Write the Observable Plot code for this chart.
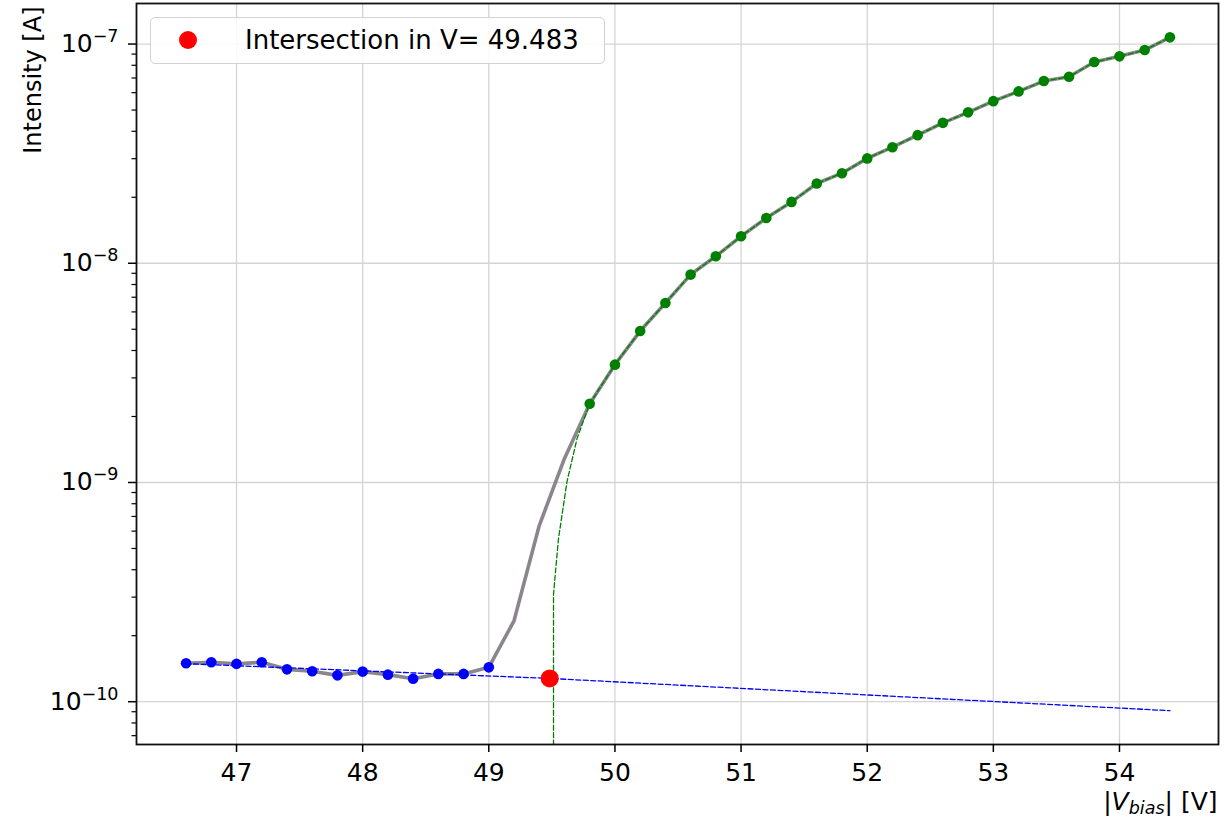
<!DOCTYPE html>
<html><head><meta charset="utf-8">
<script src="https://cdn.jsdelivr.net/npm/d3@7"></script>
<script src="https://cdn.jsdelivr.net/npm/@observablehq/plot@0.6"></script>
<style>
html,body{margin:0;padding:0;background:#fff;}
#wrap{position:relative;width:1232px;height:819px;font-family:"DejaVu Sans",sans-serif;}
#legend{position:absolute;left:150px;top:17px;width:453px;height:45px;border:1.3px solid #d2d2d2;border-radius:5px;background:rgba(255,255,255,0.85);}
#legend .dot{position:absolute;left:28px;top:13px;width:18px;height:18px;border-radius:50%;background:#ff0000;}
#legend .lab{position:absolute;left:94px;top:9px;font-size:26px;line-height:26px;color:#000;white-space:nowrap;}
</style>
</head><body>
<div id="wrap"></div>
<script>
// ---- data ----
const blueV = [46.6,46.8,47.0,47.2,47.4,47.6,47.8,48.0,48.2,48.4,48.6,48.8,49.0];
const blueI = [1.497e-10,1.513e-10,1.488e-10,1.513e-10,1.405e-10,1.376e-10,1.319e-10,1.372e-10,1.329e-10,1.273e-10,1.339e-10,1.339e-10,1.435e-10];
const midV = [49.2,49.4,49.6];
const midI = [2.34e-10,6.36e-10,1.287e-9];
const greenV = [49.8,50.0,50.2,50.4,50.6,50.8,51.0,51.2,51.4,51.6,51.8,52.0,52.2,52.4,52.6,52.8,53.0,53.2,53.4,53.6,53.8,54.0,54.2,54.4];
const greenI = [2.288e-9,3.447e-9,4.907e-9,6.586e-9,8.88e-9,1.076e-8,1.328e-8,1.609e-8,1.905e-8,2.312e-8,2.576e-8,3.008e-8,3.385e-8,3.84e-8,4.37e-8,4.88e-8,5.49e-8,6.08e-8,6.78e-8,7.09e-8,8.28e-8,8.79e-8,9.39e-8,1.073e-7];
const blueFitV = [46.6,49.483,54.4];
const blueFitI = [1.491e-10,1.277e-10,9.1e-11];
const greenFitLowV = [49.513,49.513,49.531,49.553,49.62,49.70];
const greenFitLowI = [5e-11,3.08e-10,4.05e-10,5.57e-10,1.01e-9,1.59e-9];
const crossV = [49.483];
const crossI = [1.277e-10];
const xTicks = [47,48,49,50,51,52,53,54];
const yTicks = [1e-10,1e-9,1e-8,1e-7];
const legendText = "Intersection in V= 49.483";
const yLabel = "Intensity [A]";
const xLabel = "|Vbias| [V]";

// ---- tables built from the arrays ----
const pts = (V, I) => V.map((v, i) => ({v, I: I[i]}));
const blue = pts(blueV, blueI);
const green = pts(greenV, greenI);
const all = pts(blueV.concat(midV, greenV), blueI.concat(midI, greenI));
const blueFit = pts(blueFitV, blueFitI);
const greenFit = pts(greenFitLowV.concat(greenV), greenFitLowI.concat(greenI));
const cross = pts(crossV, crossI);
const minor = [];
for (let e = -11; e <= -7; e++) for (let m = 2; m <= 9; m++) {
  const v = m * Math.pow(10, e);
  if (v > 6.38e-11 && v < 1.531e-7) minor.push(v);
}

const chart = Plot.plot({
  width: 1232, height: 819,
  marginLeft: 136, marginRight: 14, marginTop: 3, marginBottom: 75,
  style: {fontFamily: "DejaVu Sans, sans-serif", fontSize: "25px", background: "white", color: "black", overflow: "visible"},
  x: {domain: [46.207, 54.785]},
  y: {type: "log", domain: [6.38e-11, 1.531e-7]},
  marks: [
    Plot.gridX(xTicks, {stroke: "#d4d4d4", strokeOpacity: 1, strokeWidth: 1.3}),
    Plot.gridY(yTicks, {stroke: "#d4d4d4", strokeOpacity: 1, strokeWidth: 1.3}),
    Plot.line(all, {x: "v", y: "I", stroke: "#8a868c", strokeWidth: 3.6}),
    Plot.line(blueFit, {x: "v", y: "I", stroke: "#0000ff", strokeWidth: 1.3, strokeDasharray: "5,2.5", clip: true}),
    Plot.line(greenFit, {x: "v", y: "I", stroke: "#008000", strokeWidth: 1.3, strokeDasharray: "5,2.5", clip: true}),
    Plot.dot(blue, {x: "v", y: "I", fill: "#0000ff", r: 5.3}),
    Plot.dot(green, {x: "v", y: "I", fill: "#008000", r: 5.3}),
    Plot.dot(cross, {x: "v", y: "I", fill: "#ff0000", r: 9}),
    Plot.frame({stroke: "#111", strokeWidth: 1.8}),
    Plot.axisX(xTicks, {tickSize: 8, tickPadding: 11, strokeWidth: 1.5, label: null, tickFormat: d => String(d)}),
    Plot.axisY(yTicks, {tickSize: 8, tickPadding: 10, strokeWidth: 1.5, label: null, tickFormat: d => "10^−" + Math.round(-Math.log10(d))}),
    Plot.axisY(minor, {tickSize: 4.5, strokeWidth: 1.2, label: null, tickFormat: () => ""}),
    Plot.text([yLabel], {frameAnchor: "top-left", rotate: -90, textAnchor: "end", lineAnchor: "middle", dx: -103, dy: 3, fontSize: 24}),
    Plot.text([xLabel], {frameAnchor: "bottom-right", textAnchor: "end", lineAnchor: "bottom", dx: -1, dy: 65, fontSize: 25})
  ]
});

// superscripts / subscripts in text
d3.select(chart).selectAll("text").each(function() {
  const t = this.textContent;
  if (t.startsWith("10^")) {
    const exp = t.slice(3);
    const sel = d3.select(this);
    sel.text("");
    sel.append("tspan").text("10");
    sel.append("tspan").attr("dy", "-10").attr("font-size", "17.5px").text(exp);
  } else if (t === xLabel) {
    const sel = d3.select(this);
    sel.text("");
    sel.append("tspan").text("|");
    sel.append("tspan").attr("font-style", "italic").text("V");
    sel.append("tspan").attr("font-style", "italic").attr("font-size", "17.5px").attr("dy", "4").text("bias");
    sel.append("tspan").attr("dy", "-4").text("| [V]");
  }
});

const wrap = document.getElementById("wrap");
wrap.appendChild(chart);
const leg = document.createElement("div");
leg.id = "legend";
leg.innerHTML = '<span class="dot"></span><span class="lab"></span>';
leg.querySelector(".lab").textContent = legendText;
wrap.appendChild(leg);
</script>
</body></html>
